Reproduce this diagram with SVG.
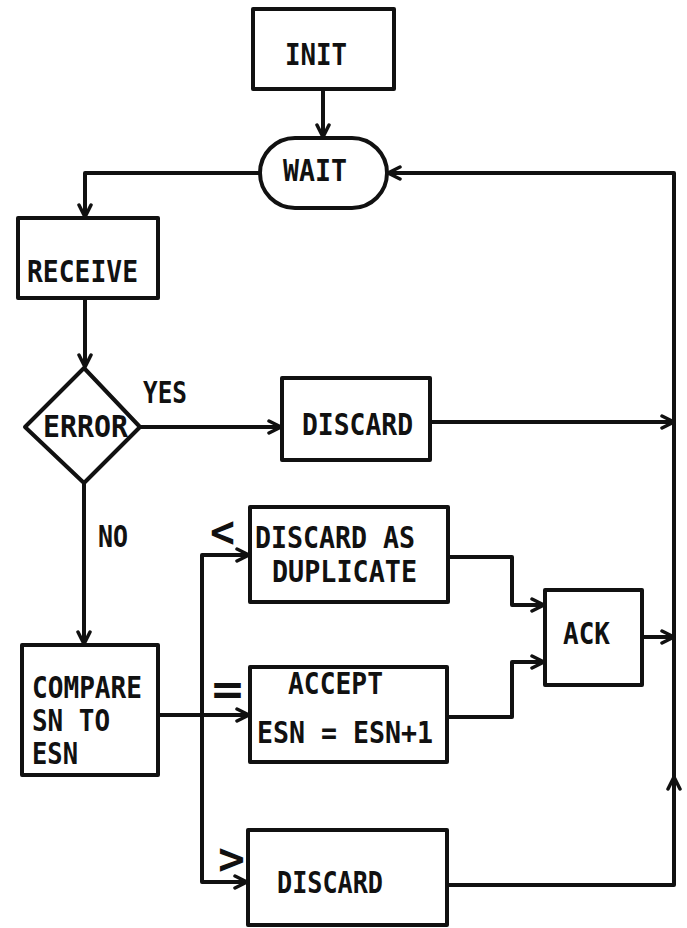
<svg xmlns="http://www.w3.org/2000/svg" width="687" height="928" viewBox="0 0 687 928">
<style>
.box{fill:none;stroke:#111;stroke-width:4;stroke-linejoin:round}
.ln{fill:none;stroke:#111;stroke-width:4;stroke-linejoin:round}
.ar{marker-end:url(#arr)}
text{font-family:"DejaVu Sans Mono","Liberation Mono",monospace;font-weight:bold;font-size:30px;fill:#111}
.sym{font-size:44px}
</style>
<defs>
<marker id="arr" viewBox="0 0 16 16" refX="14" refY="8" markerWidth="16" markerHeight="16" markerUnits="userSpaceOnUse" orient="auto">
<path d="M2,2 L14,8 L2,14" fill="none" stroke="#111" stroke-width="3.5" stroke-linejoin="round" stroke-linecap="round"/>
</marker>
</defs>
<rect width="687" height="928" fill="#fff"/>
<g id="connectors">
<path class="ln ar" d="M323,89 V137"/>
<path class="ln ar" d="M260,173 H85 V217"/>
<path class="ln ar" d="M85,298 V367"/>
<path class="ln ar" d="M140,427 H281"/>
<path class="ln ar" d="M84,483 V644"/>
<path class="ln ar" d="M430,422 H674"/>
<path class="ln ar" d="M158,715 H249"/>
<path class="ln ar" d="M202,715 V555 H249"/>
<path class="ln ar" d="M202,715 V882 H247"/>
<path class="ln ar" d="M448,557 H512 V605 H544"/>
<path class="ln ar" d="M447,717 H512 V662 H544"/>
<path class="ln ar" d="M642,637 H674"/>
<path class="ln ar" d="M447,885 H674 V777"/>
<path class="ln ar" d="M674,777 V173 H388"/>
</g>
<g id="labels">
<text x="143" y="403" textLength="44" lengthAdjust="spacingAndGlyphs">YES</text>
<text x="98" y="547" textLength="30" lengthAdjust="spacingAndGlyphs">NO</text>
<text class="sym" x="210" y="547" textLength="25" lengthAdjust="spacingAndGlyphs">&lt;</text>
<text class="sym" x="212" y="704" textLength="31" lengthAdjust="spacingAndGlyphs">=</text>
<text class="sym" x="218" y="874" textLength="27" lengthAdjust="spacingAndGlyphs">&gt;</text>
</g>
<g id="init">
<rect class="box" x="253" y="9" width="141" height="80"/>
<text x="285" y="65" textLength="62" lengthAdjust="spacingAndGlyphs">INIT</text>
</g>
<g id="wait">
<rect class="box" x="260" y="138" width="127" height="70" rx="35"/>
<text x="283" y="181" textLength="64" lengthAdjust="spacingAndGlyphs">WAIT</text>
</g>
<g id="receive">
<rect class="box" x="18" y="218" width="140" height="80"/>
<text x="27" y="282" textLength="111" lengthAdjust="spacingAndGlyphs">RECEIVE</text>
</g>
<g id="error">
<polygon class="box" points="84,368 140,427 84,483 25,427"/>
<text x="43" y="437" textLength="85" lengthAdjust="spacingAndGlyphs">ERROR</text>
</g>
<g id="discard1">
<rect class="box" x="282" y="378" width="148" height="82"/>
<text x="302" y="435" textLength="111" lengthAdjust="spacingAndGlyphs">DISCARD</text>
</g>
<g id="duplicate">
<rect class="box" x="250" y="507" width="198" height="95"/>
<text x="255" y="548" textLength="160" lengthAdjust="spacingAndGlyphs">DISCARD AS</text>
<text x="272" y="582" textLength="145" lengthAdjust="spacingAndGlyphs">DUPLICATE</text>
</g>
<g id="accept">
<rect class="box" x="250" y="667" width="197" height="95"/>
<text x="288" y="694" textLength="95" lengthAdjust="spacingAndGlyphs">ACCEPT</text>
<text x="257" y="743" textLength="176" lengthAdjust="spacingAndGlyphs">ESN = ESN+1</text>
</g>
<g id="ack">
<rect class="box" x="545" y="590" width="97" height="95"/>
<text x="563" y="644" textLength="47" lengthAdjust="spacingAndGlyphs">ACK</text>
</g>
<g id="compare">
<rect class="box" x="22" y="645" width="136" height="130"/>
<text x="32" y="698" textLength="110" lengthAdjust="spacingAndGlyphs">COMPARE</text>
<text x="32" y="731" textLength="78" lengthAdjust="spacingAndGlyphs">SN TO</text>
<text x="32" y="764" textLength="46" lengthAdjust="spacingAndGlyphs">ESN</text>
</g>
<g id="discard2">
<rect class="box" x="248" y="830" width="199" height="95"/>
<text x="277" y="893" textLength="106" lengthAdjust="spacingAndGlyphs">DISCARD</text>
</g>
</svg>
